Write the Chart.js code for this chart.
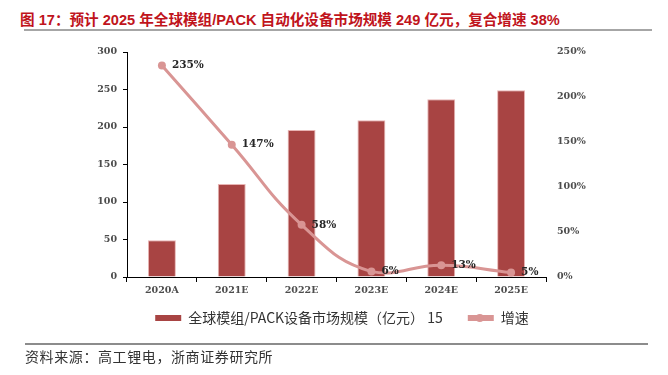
<!DOCTYPE html>
<html><head><meta charset="utf-8">
<script src="https://cdn.jsdelivr.net/npm/chart.js@4/dist/chart.umd.min.js"></script>
<style>
html,body{margin:0;padding:0;background:#fff;width:668px;height:375px;overflow:hidden;}
#title{position:absolute;left:20px;top:8px;font:bold 14.6px "Liberation Sans","Noto Sans CJK SC",sans-serif;color:#c0141c;white-space:nowrap;}
#tline{position:absolute;left:24px;top:29px;width:628px;height:2px;background:#a6a6a6;}
#bline{position:absolute;left:25px;top:343px;width:623px;height:2px;background:#8c8c8c;}
#src{position:absolute;left:25px;top:346px;font:14px "Noto Sans CJK SC",sans-serif;letter-spacing:0.6px;color:#333;white-space:nowrap;}
#wrap{position:absolute;left:0;top:0;width:668px;height:350px;}
</style></head>
<body>
<div id="title">图 17：预计 2025 年全球模组/PACK 自动化设备市场规模 249 亿元，复合增速 38%</div>
<div id="tline"></div>
<div id="wrap"><canvas id="c"></canvas></div>
<div id="bline"></div>
<div id="src">资料来源：高工锂电，浙商证券研究所</div>
<script>
const categories = ["2020A","2021E","2022E","2023E","2024E","2025E"];
const marketSize = [49, 124, 196, 209, 237, 249];
const growth = [235, 147, 58, 6, 13, 5];
const growthLabels = ["235%","147%","58%","6%","13%","5%"];
const leftTicks = [0,50,100,150,200,250,300];
const rightTicks = [0,50,100,150,200,250];
const barName = "全球模组/PACK设备市场规模（亿元） 15";
const lineName = "增速";

const barColor = "#a84443";
const lineColor = "#d99594";
const tickFont = {family:"'DejaVu Serif','Liberation Serif',serif", size:9.5, weight:'bold'};
const LEGEND_SHIFT = 15;
const LEGEND_XSHIFT = 8;

const labelPlugin = {
  id:'lbl',
  afterLayout(chart){
    const l = chart.legend;
    if(l){ l.top -= LEGEND_SHIFT; l.bottom -= LEGEND_SHIFT; l.left += LEGEND_XSHIFT; l.right += LEGEND_XSHIFT; }
  },
  afterDatasetsDraw(chart){
    const ctx = chart.ctx;
    const meta = chart.getDatasetMeta(1);
    ctx.save();
    ctx.font = "bold 10.5px 'DejaVu Serif','Liberation Serif',serif";
    ctx.fillStyle = "#262626";
    ctx.textAlign = "left";
    ctx.textBaseline = "middle";
    meta.data.forEach((p,i)=>{ ctx.fillText(growthLabels[i], p.x+10, p.y); });
    ctx.restore();
  },
  afterDraw(chart){
    const lg = chart.legend;
    if(!lg || !lg.legendHitBoxes) return;
    const hb = lg.legendHitBoxes[1];
    if(!hb) return;
    const ctx = chart.ctx;
    ctx.save();
    ctx.fillStyle = lineColor;
    ctx.beginPath();
    ctx.arc(hb.left + 12, hb.top + hb.height/2, 4, 0, Math.PI*2);
    ctx.fill();
    ctx.restore();
  }
};

new Chart(document.getElementById('c'), {
  data:{
    labels:categories,
    datasets:[
      {type:'bar', label:barName, data:marketSize, backgroundColor:barColor, borderColor:'#e8b4b3', borderWidth:{top:1,left:1,right:1,bottom:0}, yAxisID:'y', barPercentage:0.4, categoryPercentage:1, order:2},
      {type:'line', label:lineName, data:growth, borderColor:lineColor, backgroundColor:lineColor, borderWidth:3, tension:0.45, pointRadius:4, pointBackgroundColor:lineColor, pointBorderWidth:0, yAxisID:'y1', order:1}
    ]
  },
  options:{
    responsive:true, maintainAspectRatio:false, animation:false,
    layout:{padding:{left:0,right:0,top:52,bottom:0}},
    plugins:{
      tooltip:{enabled:false},
      legend:{
        position:'bottom',
        labels:{
          boxWidth:26, boxHeight:6, padding:25, color:'#333',
          font:{family:"'Noto Sans CJK SC',sans-serif", size:14},
          generateLabels(chart){
            return chart.data.datasets.map((d,i)=>({
              text:d.label, fillStyle:i===0?barColor:lineColor, strokeStyle:i===0?barColor:lineColor,
              lineWidth:0, hidden:false, datasetIndex:i, fontColor:'#333'
            }));
          }
        }
      }
    },
    scales:{
      x:{
        grid:{display:true, drawOnChartArea:false, offset:true, color:'#000', tickLength:5},
        border:{display:true,color:'#000',width:1},
        ticks:{color:'#4d4d4d', font:tickFont, padding:3, maxRotation:0},
        afterFit(s){ s.height = 24; }
      },
      y:{
        position:'left', min:0, max:300,
        afterBuildTicks(s){ s.ticks = leftTicks.map(v=>({value:v})); },
        grid:{display:true, drawOnChartArea:false, color:'#000', tickLength:4},
        border:{display:true,color:'#000',width:1},
        ticks:{color:'#4d4d4d', font:tickFont, padding:6},
        afterFit(s){ s.width = 127; }
      },
      y1:{
        position:'right', min:0, max:250,
        afterBuildTicks(s){ s.ticks = rightTicks.map(v=>({value:v})); },
        grid:{display:false, drawTicks:false},
        border:{display:false},
        ticks:{color:'#4d4d4d', font:tickFont, padding:11, callback:v=>v+'%'},
        afterFit(s){ s.width = 122; }
      }
    }
  },
  plugins:[labelPlugin]
});
</script>
</body></html>
